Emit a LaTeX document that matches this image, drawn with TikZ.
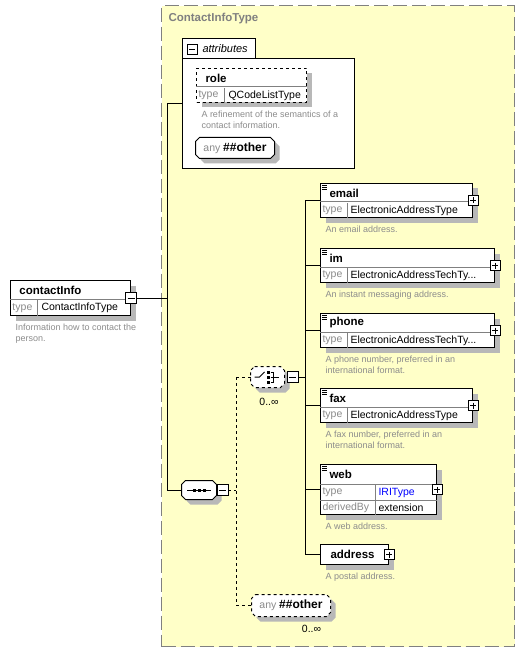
\documentclass[tikz,border=0pt]{standalone}
\usepackage{fontspec}
\setmainfont{Liberation Sans}
\usetikzlibrary{positioning,shadows}
\definecolor{panel}{HTML}{FFFFC8}
\definecolor{edgegray}{HTML}{808080}
\definecolor{shadegray}{HTML}{B8B8B8}
\definecolor{keygray}{HTML}{8A8A8A}
\definecolor{descgray}{HTML}{8C8C8C}
\tikzset{
  boxshadow/.style={drop shadow={shadow xshift=5pt, shadow yshift=-5pt, fill=shadegray, opacity=1}},
  panelbox/.style={draw=edgegray, fill=panel, line width=1.3pt, dash pattern=on 14pt off 5pt, anchor=north west, inner sep=0},
  elbox/.style={draw, fill=white, anchor=north west, inner sep=0, boxshadow},
  chambox/.style={inner sep=0},
  chamline/.style={preaction={fill=shadegray, transform canvas={shift={(5pt,-5pt)}}}, fill=white, draw},
  rowline/.style={edgegray},
  nametext/.style={font=\fontsize{11.5}{13}\selectfont\bfseries, inner sep=0, anchor=west},
  keytext/.style={font=\fontsize{10.5}{12}\selectfont, text=keygray, inner sep=0, anchor=west},
  valtext/.style={font=\fontsize{10.5}{12}\selectfont, inner sep=0, anchor=west},
  desc/.style={font=\fontsize{9}{11}\selectfont, text=descgray, align=left, inner sep=0, anchor=north west},
  mult/.style={font=\fontsize{10.5}{12}\selectfont, inner sep=0},
  togglebox/.style={draw, fill=white, line width=0.8pt, minimum size=11pt, inner sep=0},
  minusbox/.style={togglebox, path picture={\draw[line width=0.8pt] ([xshift=2pt]path picture bounding box.west) -- ([xshift=-2pt]path picture bounding box.east);}},
  plusbox/.style={togglebox, minimum size=10pt, path picture={\draw[line width=0.8pt] ([xshift=2pt]path picture bounding box.west) -- ([xshift=-2pt]path picture bounding box.east) ([yshift=-2pt]path picture bounding box.north) -- ([yshift=2pt]path picture bounding box.south);}}
}
\begin{document}
\begin{tikzpicture}[x=1pt, y=-1pt, line width=1pt]
  \useasboundingbox (0,0) rectangle (524,652);
  \node[panelbox, minimum width=353, minimum height=641] (ctype) at (161,5) {};
  \node[nametext, text=edgegray] (ctype-n) at (168,19) {ContactInfoType};
  \coordinate (spine) at (167,297);
  \coordinate (bus) at (305,377);
  \coordinate (dbus) at (236,490);
  \coordinate (attr-in) at (182,104);

  \node[elbox, minimum width=120, minimum height=35] (ci) at (10,280) {};
  \node[nametext] (ci-n) at ([shift={(9,10)}]ci.north west) {contactInfo};
  \draw[rowline] ([shift={(0,19)}]ci.north west) -- ([shift={(0,19)}]ci.north east);
  \draw[rowline] ([shift={(27,0)}]ci.south west) -- ++(0,-16);
  \node[keytext] (ci-k) at ([shift={(2,-8)}]ci.south west) {type};
  \node[valtext] (ci-v) at ([shift={(31,-8)}]ci.south west) {ContactInfoType};
  \node[minusbox] (ci-m) at (ci.east) {};
  \node[desc] (ci-d) at ([shift={(5,7)}]ci.south west) {Information how to contact the\\person.};

  \node[draw, fill=white, minimum width=172, minimum height=110, anchor=north west] (attr) at (182,58) {};
  \node[fill=white, minimum width=72, minimum height=19, inner sep=0, anchor=south west] (attr-tab) at ([shift={(0,1)}]attr.north west) {};
  \draw (attr-tab.south west) |- (attr-tab.north east) -- (attr-tab.south east);
  \node[minusbox, minimum size=10pt] (attr-m) at ([shift={(10,0)}]attr-tab.west) {};
  \node[anchor=west, inner sep=0, font=\fontsize{11}{12}\selectfont\itshape] (attr-l) at ([shift={(20,0)}]attr-tab.west) {attributes};

  \node[elbox, dashed, minimum width=110, minimum height=34] (role) at (196,68) {};
  \node[nametext] (role-n) at ([shift={(9,10)}]role.north west) {role};
  \draw[rowline] ([shift={(0,19)}]role.north west) -- ([shift={(0,19)}]role.north east);
  \draw[rowline] ([shift={(28,0)}]role.south west) -- ++(0,-15);
  \node[keytext] (role-k) at ([shift={(2,-7.5)}]role.south west) {type};
  \node[valtext] (role-v) at ([shift={(32,-7.5)}]role.south west) {QCodeListType};
  \node[desc] (role-d) at ([shift={(5,7)}]role.south west) {A refinement of the semantics of a\\contact information.};

  \node[chambox, minimum width=78, minimum height=20] (attr-any) at (235,148) {};
  \node[chambox, minimum width=34, minimum height=18] (seq) at (199,490) {};
  \node[chambox, minimum width=33, minimum height=20] (choice) at (267.5,377) {};
  \node[chambox, minimum width=78, minimum height=21] (other) at (291,605.5) {};
  \foreach \o/\ds in {attr-any/solid, seq/solid, choice/dashed, other/dashed}
    \path[chamline, \ds] ([shift={(4,0)}]\o.north west) -- ([shift={(-4,0)}]\o.north east) -- ([shift={(0,4)}]\o.north east)
      -- ([shift={(0,-4)}]\o.south east) -- ([shift={(-4,0)}]\o.south east) -- ([shift={(4,0)}]\o.south west)
      -- ([shift={(0,-4)}]\o.south west) -- ([shift={(0,4)}]\o.north west) -- cycle;

  \node[inner sep=0] (attr-any-t) at (attr-any.center) {\textcolor{keygray}{\fontsize{10.5}{12}\selectfont any}\ \fontsize{12}{13}\selectfont\bfseries\#\#other};
  \node[inner sep=0] (other-t) at (other.center) {\textcolor{keygray}{\fontsize{10.5}{12}\selectfont any}\ \fontsize{12}{13}\selectfont\bfseries\#\#other};
  \node[mult] (other-o) at ([shift={(-19,12)}]other.south east) {0..∞};

  \draw ([shift={(-12,0)}]seq.center) -- ([shift={(12,0)}]seq.center);
  \foreach \dx in {-5,0,5}
    \fill ([shift={(\dx-1.5,-1.5)}]seq.center) rectangle ++(3,3);
  \node[minusbox, right=0pt of seq] (seq-m) {};

  \draw (ci-m.east) -- (ci-m.east -| spine);
  \draw (spine |- attr-in) -- (spine |- seq.west);
  \draw (spine |- attr-in) -- (attr-in);
  \draw (spine |- seq.west) -- (seq.west);

  \draw ([shift={(-13,0)}]choice.center) -- ++(5,0) -- ++(5,-5);
  \foreach \dy in {-5,0,5}
    \fill ([shift={(-0.5,\dy-1.5)}]choice.center) rectangle ++(3,3);
  \draw ([shift={(3,-5)}]choice.center) -- ++(3,0) -- ++(0,10) -- ++(-3,0) ([shift={(3,0)}]choice.center) -- ++(8,0);
  \node[minusbox, right=2pt of choice] (choice-m) {};
  \node[mult] (choice-o) at ([shift={(1.5,14)}]choice.south) {0..∞};

  \draw[dashed] (seq-m.east) -- (seq-m.east -| dbus);
  \draw[dashed] (dbus |- choice.west) -- (dbus |- other.west);
  \draw[dashed] (dbus |- choice.west) -- (choice.west);
  \draw[dashed] (dbus |- other.west) -- (other.west);
  \draw (choice-m.east) -- (choice-m.east -| bus);

  \foreach \nm/\y/\w/\ty/\ds in {email/183/152/{ElectronicAddressType}/{An email address.},
      im/248/174/{ElectronicAddressTechTy...}/{An instant messaging address.},
      phone/313/174/{ElectronicAddressTechTy...}/{A phone number, preferred in an\\international format.},
      fax/388/152/{ElectronicAddressType}/{A fax number, preferred in an\\international format.}} {
    \node[elbox, minimum width=\w, minimum height=34] (\nm) at (320,\y) {};
    \node[nametext] (\nm-n) at ([shift={(9,10)}]\nm.north west) {\nm};
    \draw[rowline] ([shift={(0,19)}]\nm.north west) -- ([shift={(0,19)}]\nm.north east);
    \draw[rowline] ([shift={(27,0)}]\nm.south west) -- ++(0,-15);
    \node[keytext] (\nm-k) at ([shift={(2,-7.5)}]\nm.south west) {type};
    \node[valtext] (\nm-v) at ([shift={(30,-7.5)}]\nm.south west) {\ty};
    \node[plusbox] (\nm-p) at (\nm.east) {};
    \foreach \k in {2,4,6}
      \draw[line width=0.6pt] ([shift={(2,\k)}]\nm.north west) -- ++(5,0);
    \node[desc] (\nm-d) at ([shift={(5,7)}]\nm.south west) {\ds};
    \draw (\nm.west) -- (\nm.west -| bus);
  }

  \node[elbox, minimum width=116, minimum height=50] (web) at (320,464) {};
  \node[nametext] (web-n) at ([shift={(9,10)}]web.north west) {web};
  \draw[rowline] ([shift={(0,20)}]web.north west) -- ([shift={(0,20)}]web.north east);
  \draw[rowline] ([shift={(0,-15)}]web.south west) -- ([shift={(0,-15)}]web.south east);
  \draw[rowline] ([shift={(55,0)}]web.south west) -- ++(0,-30);
  \node[keytext] (web-k) at ([shift={(2,-22.5)}]web.south west) {type};
  \node[valtext, text=blue] (web-v) at ([shift={(58,-22.5)}]web.south west) {IRIType};
  \node[keytext] (web-dk) at ([shift={(2,-7.5)}]web.south west) {derivedBy};
  \node[valtext] (web-dv) at ([shift={(58,-7.5)}]web.south west) {extension};
  \node[plusbox] (web-p) at (web.east) {};
  \foreach \k in {2,4,6}
    \draw[line width=0.6pt] ([shift={(2,\k)}]web.north west) -- ++(5,0);
  \node[desc] (web-d) at ([shift={(5,7)}]web.south west) {A web address.};
  \draw (web.west) -- (web.west -| bus);

  \node[elbox, minimum width=68, minimum height=20] (address) at (320,544) {};
  \node[nametext] (address-n) at ([shift={(10,0)}]address.west) {address};
  \node[plusbox] (address-p) at (address.east) {};
  \node[desc] (address-d) at ([shift={(5,7)}]address.south west) {A postal address.};
  \draw (address.west) -- (address.west -| bus);

  \draw (bus |- email.west) -- (bus |- address.west);
\end{tikzpicture}
\end{document}
